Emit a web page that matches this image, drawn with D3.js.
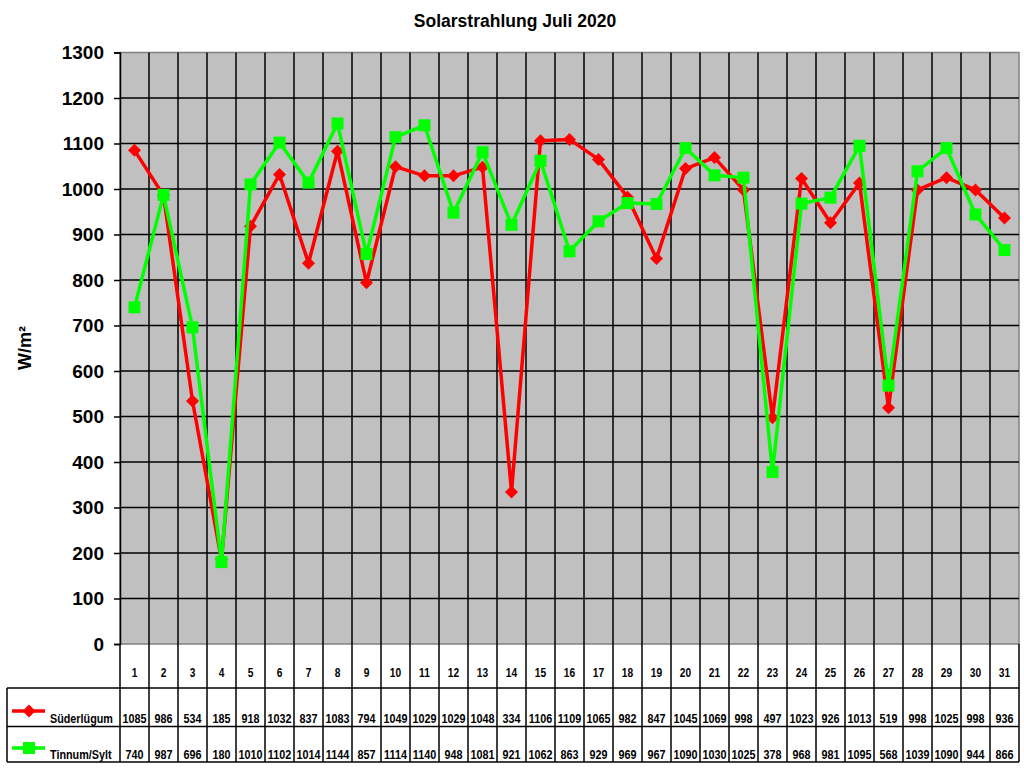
<!DOCTYPE html>
<html>
<head>
<meta charset="utf-8">
<script src="https://cdn.jsdelivr.net/npm/d3@7"></script>
<style>
  body { margin: 0; background: #fff; }
  svg { display: block; font-family: "Liberation Sans", Arial, sans-serif; }
</style>
</head>
<body>
<svg id="chart" width="1024" height="768"></svg>
<script>
const days = d3.range(1, 32);
const suederluegum = [1085,986,534,185,918,1032,837,1083,794,1049,1029,1029,1048,334,1106,1109,1065,982,847,1045,1069,998,497,1023,926,1013,519,998,1025,998,936];
const tinnum = [740,987,696,180,1010,1102,1014,1144,857,1114,1140,948,1081,921,1062,863,929,969,967,1090,1030,1025,378,968,981,1095,568,1039,1090,944,866];
const seriesNames = ['Süderlügum', 'Tinnum/Sylt'];
const yTicks = d3.range(0, 1301, 100);

const plot = {left: 120, right: 1019, top: 52.5, bottom: 644};
const table = {left: 7, rows: [688, 726.5, 762]};

const svg = d3.select('#chart');

const x = d3.scaleBand()
    .domain(days)
    .range([plot.left, plot.right]);

const y = d3.scaleLinear()
    .domain([0, 1300])
    .range([plot.bottom, plot.top]);

const cx = d => x(d) + x.bandwidth() / 2;

// excel style marker shapes
const diamond = 'M0,-6.5L6.5,0L0,6.5L-6.5,0Z';
const square = 'M-6,-6H6V6H-6Z';

// title
svg.append('text')
    .attr('x', 515)
    .attr('y', 27)
    .attr('text-anchor', 'middle')
    .attr('font-weight', 'bold')
    .attr('font-size', '17.5px')
    .text('Solarstrahlung Juli 2020');

// plot background
svg.append('rect')
    .attr('x', plot.left)
    .attr('y', plot.top)
    .attr('width', plot.right - plot.left)
    .attr('height', plot.bottom - plot.top)
    .attr('fill', '#c0c0c0')
    .attr('stroke', '#808080')
    .attr('stroke-width', 1.5);

// horizontal grid
svg.selectAll('.hgrid')
    .data(yTicks.filter(d => d > 0 && d < 1300))
    .join('line')
    .attr('class', 'hgrid')
    .attr('x1', plot.left)
    .attr('x2', plot.right)
    .attr('y1', d => y(d))
    .attr('y2', d => y(d))
    .attr('stroke', '#000')
    .attr('stroke-width', 1.5);

// vertical grid through plot and table
svg.selectAll('.vgrid')
    .data(days.slice(1))
    .join('line')
    .attr('class', 'vgrid')
    .attr('x1', d => x(d))
    .attr('x2', d => x(d))
    .attr('y1', plot.top)
    .attr('y2', table.rows[2])
    .attr('stroke', '#000')
    .attr('stroke-width', 1.5);

// y axis
const yAxis = svg.append('g')
    .attr('transform', `translate(${plot.left},0)`)
    .call(d3.axisLeft(y).tickValues(yTicks).tickFormat(d3.format('d')).tickSize(6).tickPadding(10));
yAxis.select('.domain').attr('stroke', '#000').attr('stroke-width', 1.5);
yAxis.selectAll('.tick line').attr('stroke', '#000').attr('stroke-width', 1.5);
yAxis.selectAll('.tick text')
    .attr('fill', '#000')
    .attr('font-size', '19px')
    .attr('font-weight', 'bold')
    .attr('font-family', '"Liberation Sans", Arial, sans-serif');

svg.append('text')
    .attr('transform', 'translate(31,348) rotate(-90)')
    .attr('text-anchor', 'middle')
    .attr('font-weight', 'bold')
    .attr('font-size', '18px')
    .text('W/m²');

// table lines
svg.append('line')
    .attr('x1', plot.left).attr('x2', plot.left)
    .attr('y1', plot.bottom).attr('y2', table.rows[2])
    .attr('stroke', '#000').attr('stroke-width', 1.5);
svg.append('line')
    .attr('x1', plot.right).attr('x2', plot.right)
    .attr('y1', plot.bottom).attr('y2', table.rows[2])
    .attr('stroke', '#000').attr('stroke-width', 1.5);
svg.append('line')
    .attr('x1', table.left).attr('x2', table.left)
    .attr('y1', table.rows[0]).attr('y2', table.rows[2])
    .attr('stroke', '#000').attr('stroke-width', 1.5);
svg.selectAll('.trow')
    .data(table.rows)
    .join('line')
    .attr('class', 'trow')
    .attr('x1', table.left)
    .attr('x2', plot.right)
    .attr('y1', d => d)
    .attr('y2', d => d)
    .attr('stroke', '#000')
    .attr('stroke-width', 1.5);

// category labels
svg.selectAll('.cat')
    .data(days)
    .join('text')
    .attr('class', 'cat')
    .attr('transform', d => `translate(${cx(d)},677) scale(0.85,1)`)
    .attr('text-anchor', 'middle')
    .attr('font-weight', 'bold')
    .attr('font-size', '12px')
    .text(d => d);

const series = [
    {name: seriesNames[0], values: suederluegum, color: '#ff0000', marker: diamond, rowY: 723, keyY: 711},
    {name: seriesNames[1], values: tinnum, color: '#00ff00', marker: square, rowY: 759, keyY: 748}
];

const line = d3.line()
    .x((d, i) => cx(days[i]))
    .y(d => y(d));

series.forEach(s => {
    svg.append('path')
        .datum(s.values)
        .attr('d', line)
        .attr('fill', 'none')
        .attr('stroke', s.color)
        .attr('stroke-width', 3.5)
        .attr('stroke-linejoin', 'round');

    svg.selectAll(null)
        .data(s.values)
        .join('path')
        .attr('transform', (d, i) => `translate(${cx(days[i])},${y(d)})`)
        .attr('d', s.marker)
        .attr('fill', s.color);

    // table values
    svg.selectAll(null)
        .data(s.values)
        .join('text')
        .attr('transform', (d, i) => `translate(${cx(days[i])},${s.rowY}) scale(0.83,1)`)
        .attr('text-anchor', 'middle')
        .attr('font-weight', 'bold')
        .attr('font-size', '13px')
        .text(d => d);

    // legend key
    svg.append('line')
        .attr('x1', 12).attr('x2', 45)
        .attr('y1', s.keyY).attr('y2', s.keyY)
        .attr('stroke', s.color)
        .attr('stroke-width', 3.5);
    svg.append('path')
        .attr('transform', `translate(29,${s.keyY})`)
        .attr('d', s.marker)
        .attr('fill', s.color);
    svg.append('text')
        .attr('transform', `translate(50,${s.rowY}) scale(0.83,1)`)
        .attr('font-weight', 'bold')
        .attr('font-size', '13px')
        .text(s.name);
});
</script>
</body>
</html>
